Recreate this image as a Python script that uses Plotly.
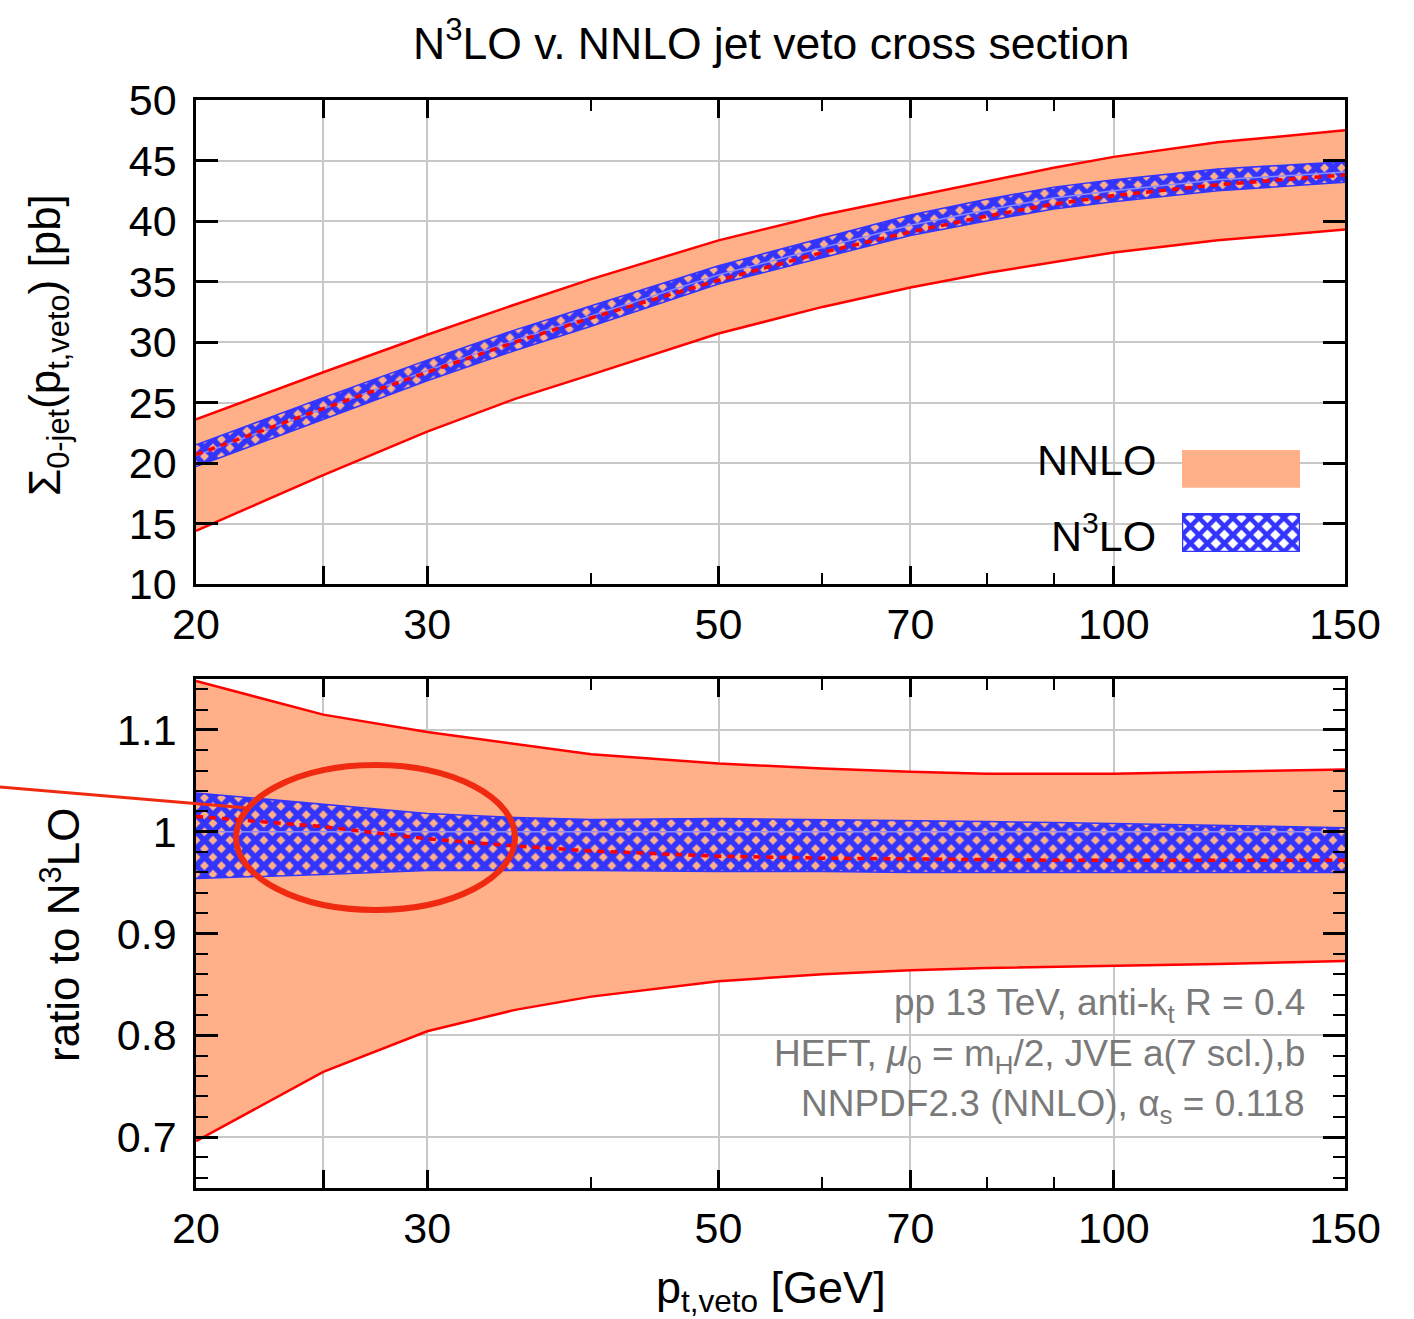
import numpy as np
import plotly.graph_objects as go

# ---------------- data ----------------
pt = [20, 25, 30, 35, 40, 50, 60, 70, 80, 90, 100, 120, 150]

# top panel: Sigma_0-jet [pb]
nnlo_up = [23.6, 27.5, 30.6, 33.1, 35.2, 38.4, 40.5, 42.0, 43.3, 44.4, 45.3, 46.5, 47.5]
nnlo_lo = [14.4, 19.0, 22.6, 25.3, 27.3, 30.7, 32.9, 34.5, 35.7, 36.6, 37.4, 38.4, 39.3]
nnlo_c = [20.7, 24.5, 27.5, 30.0, 32.0, 35.1, 37.4, 39.1, 40.4, 41.4, 42.1, 43.0, 43.8]
n3lo_up = [21.5, 25.4, 28.5, 31.0, 33.0, 36.3, 38.6, 40.5, 41.8, 42.8, 43.4, 44.3, 44.9]
n3lo_lo = [19.7, 23.6, 26.8, 29.3, 31.3, 34.8, 37.0, 38.8, 40.0, 41.0, 41.6, 42.5, 43.2]
n3lo_c = [20.6, 24.5, 27.65, 30.15, 32.15, 35.55, 37.8, 39.65, 40.9, 41.9, 42.5, 43.4, 44.05]

# bottom panel: ratio to N3LO
r_nnlo_up = [1.148, 1.115, 1.098, 1.086, 1.076, 1.067, 1.062, 1.059, 1.057, 1.057, 1.057, 1.059, 1.061]
r_nnlo_lo = [0.696, 0.764, 0.804, 0.825, 0.838, 0.853, 0.860, 0.864, 0.866, 0.867, 0.868, 0.870, 0.873]
r_nnlo_c = [1.015, 1.005, 0.993, 0.986, 0.981, 0.976, 0.974, 0.973, 0.972, 0.972, 0.972, 0.972, 0.972]
r_n3lo_up = [1.038, 1.027, 1.018, 1.014, 1.012, 1.013, 1.012, 1.011, 1.010, 1.009, 1.008, 1.006, 1.004]
r_n3lo_lo = [0.954, 0.958, 0.962, 0.962, 0.962, 0.961, 0.961, 0.960, 0.960, 0.960, 0.960, 0.960, 0.960]
r_n3lo_c = [1.0] * len(pt)

x_major = [20, 25, 30, 50, 70, 100, 150]
x_major_text = ["20", "", "30", "50", "70", "100", "150"]
x_minor = [40, 60, 80, 90]
y1_ticks = [10, 15, 20, 25, 30, 35, 40, 45, 50]
y2_ticks = [0.7, 0.8, 0.9, 1.0, 1.1]
y2_text = ["0.7", "0.8", "0.9", "1", "1.1"]

# ---------------- style ----------------
ORANGE = "#ffb088"
RED = "#ff0000"
BLUE = "#3434ff"
GRID = "#c8c8c8"
FONT = "Liberation Sans"

W, H = 1414, 1319
L, R, T, B = 196, 69, 100, 131
PH = H - T - B
PW = W - L - R


def px(xp):
    return (xp - L) / PW


def py(yp):
    return (H - B - yp) / PH


fig = go.Figure()

PATTERN = dict(shape="x", fgcolor=BLUE, size=12, solidity=0.72,
               fillmode="replace", fgopacity=1)


def add_panel(xa, ya, up, lo, c, nup, nlo, nc):
    fig.add_trace(go.Scatter(x=pt, y=lo, mode="lines", line=dict(color=RED, width=2.5),
                             xaxis=xa, yaxis=ya, showlegend=False, hoverinfo="skip"))
    fig.add_trace(go.Scatter(x=pt, y=up, mode="lines", line=dict(color=RED, width=2.5),
                             fill="tonexty", fillcolor=ORANGE, name="NNLO",
                             xaxis=xa, yaxis=ya, showlegend=False))
    fig.add_trace(go.Scatter(x=pt, y=nlo, mode="lines", line=dict(color=BLUE, width=1.5),
                             xaxis=xa, yaxis=ya, showlegend=False, hoverinfo="skip"))
    fig.add_trace(go.Scatter(x=pt, y=nup, mode="lines", line=dict(color=BLUE, width=1.5),
                             fill="tonexty", fillcolor="rgba(0,0,0,0)",
                             fillpattern=PATTERN,
                             name="N3LO", xaxis=xa, yaxis=ya, showlegend=False))
    fig.add_trace(go.Scatter(x=pt, y=nc, mode="lines", line=dict(color="#8c8cff", width=1.5),
                             xaxis=xa, yaxis=ya, showlegend=False))
    fig.add_trace(go.Scatter(x=pt, y=c, mode="lines", line=dict(color=RED, width=3.5, dash="7px,6px"),
                             xaxis=xa, yaxis=ya, showlegend=False))


add_panel("x", "y", nnlo_up, nnlo_lo, nnlo_c, n3lo_up, n3lo_lo, n3lo_c)
add_panel("x2", "y2", r_nnlo_up, r_nnlo_lo, r_nnlo_c, r_n3lo_up, r_n3lo_lo, r_n3lo_c)

# legend keys (drawn on a hidden helper axis placed over the legend area)
fig.add_trace(go.Scatter(x=[0, 1, 1, 0, 0], y=[0.63, 0.63, 1, 1, 0.63], mode="lines",
                         line=dict(width=0), fill="toself", fillcolor=ORANGE,
                         xaxis="x3", yaxis="y3", showlegend=False, hoverinfo="skip"))
fig.add_trace(go.Scatter(x=[0, 1, 1, 0, 0], y=[0, 0, 0.37, 0.37, 0], mode="lines",
                         line=dict(width=2.5, color=BLUE), fill="toself", fillcolor="rgba(0,0,0,0)",
                         fillpattern=dict(shape="x", fgcolor=BLUE, size=12, solidity=0.62,
                                          fillmode="replace", fgopacity=1),
                         xaxis="x3", yaxis="y3", showlegend=False, hoverinfo="skip"))

xaxis_common = dict(
    type="log", range=[np.log10(20), np.log10(150)],
    tickmode="array", tickvals=x_major, ticktext=x_major_text,
    ticks="inside", ticklen=18, tickwidth=2.5, tickcolor="black",
    showline=True, linecolor="black", linewidth=2.5, mirror="allticks",
    showgrid=True, gridcolor=GRID, gridwidth=1.5,
    minor=dict(tickmode="array", tickvals=x_minor, ticks="inside", ticklen=11,
               tickwidth=2, tickcolor="black", showgrid=False),
    tickfont=dict(family=FONT, size=43, color="black"),
    ticklabelstandoff=1,
    zeroline=False,
)

yaxis_common = dict(
    ticks="inside", ticklen=22, tickwidth=2.5, tickcolor="black",
    showline=True, linecolor="black", linewidth=2.5, mirror="allticks",
    showgrid=True, gridcolor=GRID, gridwidth=1.5,
    tickfont=dict(family=FONT, size=43, color="black"),
    ticklabelstandoff=8, zeroline=False,
)

top_dom = [py(584), 1.0]
bot_dom = [0.0, py(679)]

fig.update_layout(
    width=W, height=H,
    margin=dict(l=L, r=R, t=T, b=B),
    paper_bgcolor="white", plot_bgcolor="white",
    font=dict(family=FONT, color="black"),
    showlegend=False,
    xaxis=dict(**xaxis_common, domain=[0, 1], anchor="y"),
    yaxis=dict(**yaxis_common, domain=top_dom, anchor="x", range=[10, 50],
               tickmode="array", tickvals=y1_ticks),
    xaxis2=dict(**xaxis_common, domain=[0, 1], anchor="y2"),
    yaxis2=dict(**yaxis_common, domain=bot_dom, anchor="x2", range=[0.65, 1.15],
                tickmode="array", tickvals=y2_ticks, ticktext=y2_text,
                minor=dict(dtick=0.02, ticks="inside", ticklen=12, tickwidth=2,
                           tickcolor="black", showgrid=False)),
    xaxis3=dict(domain=[px(1182), px(1300)], anchor="y3", range=[0, 1], visible=False,
                fixedrange=True),
    yaxis3=dict(domain=[py(552), py(450)], anchor="x3", range=[0, 1], visible=False,
                fixedrange=True),
)

ann = []
ann.append(dict(text="N<sup>3</sup>LO v. NNLO jet veto cross section", x=px(771), y=py(40),
                xref="paper", yref="paper", showarrow=False, xanchor="center", yanchor="middle",
                font=dict(family=FONT, size=44.5, color="black")))
ann.append(dict(text="p<sub>t,veto</sub> [GeV]", x=px(771), y=py(1290),
                xref="paper", yref="paper", showarrow=False, xanchor="center", yanchor="middle",
                font=dict(family=FONT, size=45, color="black")))
ann.append(dict(text="Σ<sub>0-jet</sub>(p<sub>t,veto</sub>) [pb]", x=px(48), y=py(345),
                xref="paper", yref="paper", showarrow=False, xanchor="center", yanchor="middle",
                textangle=-90, font=dict(family=FONT, size=44, color="black")))
ann.append(dict(text="ratio to N<sup>3</sup>LO", x=px(60), y=py(935),
                xref="paper", yref="paper", showarrow=False, xanchor="center", yanchor="middle",
                textangle=-90, font=dict(family=FONT, size=44, color="black")))
ann.append(dict(text="NNLO", x=px(1158), y=py(460), xref="paper", yref="paper", showarrow=False,
                xanchor="right", yanchor="middle", font=dict(family=FONT, size=43, color="black")))
ann.append(dict(text="N<sup>3</sup>LO", x=px(1158), y=py(533), xref="paper", yref="paper",
                showarrow=False, xanchor="right", yanchor="middle",
                font=dict(family=FONT, size=43, color="black")))
info = ["pp 13 TeV, anti-k<sub>t</sub> R = 0.4",
        "HEFT, <i>μ</i><sub>0</sub> = m<sub>H</sub>/2, JVE a(7 scl.),b",
        "NNPDF2.3 (NNLO), α<sub>s</sub> = 0.118"]
for txt, yy in zip(info, [1005, 1056, 1106]):
    ann.append(dict(text=txt, x=px(1307), y=py(yy), xref="paper", yref="paper", showarrow=False,
                    xanchor="right", yanchor="middle",
                    font=dict(family=FONT, size=37, color="#7a7a7a")))
fig.update_layout(annotations=ann)

# hand-drawn style red ellipse and pointer line
fig.add_shape(type="circle", xref="paper", yref="paper",
              x0=px(236), x1=px(515), y0=py(910), y1=py(765),
              line=dict(color="#f02a10", width=6))
fig.add_shape(type="line", xref="paper", yref="paper",
              x0=px(0), y0=py(787), x1=px(248), y1=py(808),
              line=dict(color="#f02a10", width=3))

fig.write_html("out.html")
